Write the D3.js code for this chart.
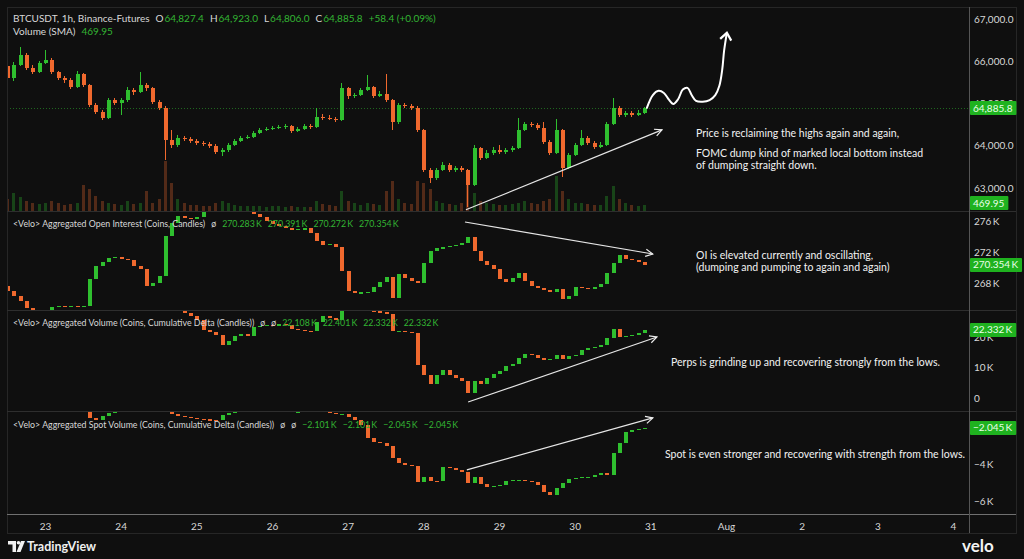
<!DOCTYPE html>
<html><head><meta charset="utf-8">
<script src="https://cdn.jsdelivr.net/npm/d3@7"></script>
<style>html,body{margin:0;padding:0;background:#0f0f0f;overflow:hidden}svg{display:block}text{font-family:Lato,"Noto Sans",sans-serif}</style>
</head><body>
<svg id="c" width="1024" height="559"></svg>
<script>
// ---------------- DATA (2-hour candles, first candle Jul 22 12:00) ----------------
const startTime = new Date(2024, 6, 22, 12);
const stepHours = 2;

const priceOpen0 = 65890;
const priceClose = [65605,65913,66149,65842,65747,65960,66031,65747,65605,65558,
65392,65700,65440,64967,64801,64660,65085,65014,65085,65322,
65274,65440,65369,65038,64896,64140,64021,64187,64163,64116,
64069,64045,63998,63856,63903,64021,64116,64187,64210,64305,
64376,64400,64423,64447,64471,64352,64400,64471,64447,64683,
64660,64640,64612,65369,65180,65203,65322,65392,65180,65227,
65085,64565,64967,64940,64896,64376,63430,63241,63430,63549,
63430,63478,63430,63076,63950,63714,63832,63903,63856,63903,
63950,64376,64518,64494,64423,64092,63832,64376,63478,63785,
64021,64187,64069,63974,64021,64518,64896,64731,64778,64731,
64778,64885.8];
const priceHigh = [65960,65990,66340,66200,65900,66010,66270,66080,65780,65660,
65600,65760,65730,65470,65010,64840,65130,65120,65140,65380,
65360,65750,65480,65400,65080,64930,64380,64250,64230,64200,
64150,64110,64080,64030,63950,64070,64160,64230,64260,64350,
64420,64440,64470,64490,64510,64500,64450,64510,64520,64900,
64740,64720,64680,65490,65400,65260,65360,65680,65420,65290,
65690,65110,65020,65020,64990,64930,64400,63470,63480,63610,
63580,63530,63510,63460,64010,63980,63890,63960,64020,63950,
64000,64660,64570,64560,64530,64560,64130,64630,64400,63840,
64070,64380,64220,64110,64080,64560,65130,64940,64830,64820,
64840,64923];
const priceLow = [65560,65540,65880,65800,65690,65720,65930,65700,65560,65480,
65340,65360,65400,64920,64740,64620,64640,64960,64730,65040,
65200,65240,65300,64990,64840,63670,63950,63980,64110,64070,
64020,64000,63950,63800,63760,63860,63990,64090,64150,64180,
64280,64340,64370,64390,64400,64300,64320,64370,64400,64420,
64610,64600,64560,64590,65100,65130,65170,65290,65130,65150,
65040,64380,64520,64900,64850,64330,63380,63120,63200,63400,
63380,63390,63370,62560,63040,63670,63680,63790,63800,63810,
63860,63920,64340,64440,64370,64050,63780,63800,63260,63440,
63750,63990,64020,63930,63940,63990,64480,64680,64690,64690,
64700,64750];
const volume = [720,1080,840,600,480,420,480,600,480,360,
420,480,1560,1320,900,600,480,420,360,600,
420,480,1200,480,720,3000,1680,720,480,360,
360,300,300,480,600,480,360,300,300,300,
300,240,300,300,240,300,240,240,240,600,
420,360,300,1200,600,480,360,480,420,360,
1200,1800,720,480,420,1800,1680,1320,600,480,
420,360,480,2100,1080,600,480,420,360,360,
420,480,600,480,420,600,720,2100,1200,720,
480,480,420,360,360,900,1500,720,480,360,
300,360];
const volumeSMA = 469.95;

const oiOpen0 = 267.6;
const oiClose = [266.97,266.3,265.7,264.8,264.1,263.9,264.1,264.9,265.0,264.9,
265.05,264.9,265.0,268.5,270.2,270.7,271.2,271.4,271.1,271.0,
270.2,269.8,267.6,268.0,268.9,274.1,275.7,276.6,276.4,276.3,
276.5,277.9,278.6,278.4,277.6,278.0,278.2,278.0,277.8,276.9,
276.5,276.0,275.6,275.4,275.1,274.8,275.0,275.05,274.5,273.4,
272.9,273.0,272.6,269.5,267.0,266.7,266.8,266.85,267.5,268.1,
268.8,266.1,269.2,268.6,268.3,268.0,270.6,272.1,272.5,272.6,
272.8,272.9,273.2,273.9,272.1,270.8,270.3,269.8,268.5,268.1,
268.6,269.3,268.3,267.6,267.4,267.1,266.8,267.2,265.9,266.3,
267.5,267.4,267.2,267.5,267.9,269.3,270.6,271.6,271.1,271.0,
270.7,270.354];

const aggOpen0 = 34.3;
const aggClose = [34.5,34.8,35.2,34.9,34.6,34.7,34.9,34.6,34.4,34.2,
34.0,34.3,33.9,33.2,32.8,32.5,32.9,32.8,33.0,33.3,
33.2,33.5,33.0,32.5,32.2,30.5,29.2,28.6,27.9,26.9,
25.6,22.3,21.6,20.7,17.4,18.7,20.3,21.0,20.3,23.3,
23.6,23.9,23.6,24.3,23.9,22.6,22.3,22.0,21.9,24.9,
26.9,26.2,25.6,29.5,29.2,28.9,28.8,28.5,28.4,28.2,
27.5,22.0,22.1,21.6,21.3,10.8,7.5,4.6,7.5,9.2,
7.6,6.6,5.6,1.6,5.6,4.6,6.6,7.9,8.9,10.5,
11.1,13.1,14.4,14.1,13.1,12.5,12.8,14.1,12.8,13.8,
14.1,15.7,16.4,16.7,17.4,19.7,22.6,20.0,20.3,20.7,
21.3,22.332];

const spotOpen0 = -0.7;
const spotClose = [-0.6,-0.5,-0.4,-0.5,-0.6,-0.7,-0.6,-0.7,-0.8,-0.9,
-0.9,-1.0,-1.05,-1.51,-1.62,-1.41,-1.24,-1.05,-0.95,-0.9,
-0.85,-0.9,-0.95,-1.0,-1.08,-1.19,-1.30,-1.41,-1.46,-1.51,
-1.57,-1.59,-1.62,-1.64,-1.35,-1.24,-1.14,-1.0,-0.95,-0.9,
-0.9,-0.95,-1.0,-1.05,-1.1,-1.19,-1.17,-1.1,-1.05,-1.0,
-1.1,-1.24,-1.30,-1.28,-1.46,-1.62,-1.89,-2.59,-2.81,-2.86,
-3.03,-3.68,-3.95,-4.05,-4.11,-4.97,-4.70,-4.92,-4.94,-4.16,
-4.22,-4.32,-4.43,-5.03,-4.70,-5.08,-5.24,-5.19,-5.14,-4.92,
-4.86,-4.84,-4.92,-4.97,-5.14,-5.51,-5.68,-5.30,-5.03,-4.81,
-4.76,-4.70,-4.68,-4.59,-4.49,-4.59,-3.41,-2.86,-2.27,-2.16,
-2.11,-2.045];

// axis ticks
const dayTicks = [23,24,25,26,27,28,29,30,31].map(d => new Date(2024,6,d)).concat([1,2,3,4].map(d => new Date(2024,7,d)));
const priceTicks = [63000,64000,65000,66000,67000];
const oiTicks = [268,272,276];
const aggTicks = [0,10,20];
const spotTicks = [-6,-4,-2];

// header texts
const priceHeaderVals = ["64,827.4","64,923.0","64,806.0","64,885.8","+58.4 (+0.09%)"];
const oiHeaderVals = ["270.283\u2009K","270.391\u2009K","270.272\u2009K","270.354\u2009K"];
const aggHeaderVals = ["22.108\u2009K","22.401\u2009K","22.332\u2009K","22.332\u2009K"];
const spotHeaderVals = ["\u22122.101\u2009K","\u22122.101\u2009K","\u22122.045\u2009K","\u22122.045\u2009K"];

// annotations (hours after Jul 23 00:00, value)
const priceTrend = [[133.5,62485],[195.7,64376]];
const oiTrend = [[133.2,275.87],[192.8,271.74]];
const aggTrend = [[134.2,-1.31],[194.1,20.0]];
const spotTrend = [[133.8,-4.32],[192.8,-1.51]];
const squiggle = [[190.9,64896],[192.8,65200],[194.6,65300],[196.3,65250],[197.8,65100],[199.3,64990],[200.8,65100],[202.3,65330],[203.8,65370],[205.1,65200],[206.5,65060],[208.6,65040],[210.8,65080],[212.6,65200],[213.9,65420],[214.8,65800],[215.4,66250],[216.2,66640]];
const notes = [
  {x:696,y:137,t:"Price is reclaiming the highs again and again,"},
  {x:696,y:157,t:"FOMC dump kind of marked local bottom instead"},
  {x:696,y:169,t:"of dumping straight down."},
  {x:696,y:259,t:"OI is elevated currently and oscillating,"},
  {x:696,y:271,t:"(dumping and pumping to again and again)"},
  {x:671,y:366,t:"Perps is grinding up and recovering strongly from the lows."},
  {x:665,y:458,t:"Spot is even stronger and recovering with strength from the lows."}
];

// ---------------- LAYOUT ----------------
const GREEN = "#2fbf2f", RED = "#f0692e", TXT = "#d8d8d8", VAL = "#33b533", LBL = "#1fb21f";
const FONT = "Lato";
const plotL = 7, plotR = 969, frameR = 1016, frameT = 7, axisY = 514, frameB = 533;
const panels = {price:[8,211], oi:[211,310], agg:[310,411], spot:[411,514]};

const svg = d3.select("#c");
svg.append("rect").attr("width",1024).attr("height",559).attr("fill","#0f0f0f");

const defs = svg.append("defs");
Object.entries(panels).forEach(([k,[t,b]]) => {
  defs.append("clipPath").attr("id","clip-"+k).append("rect")
    .attr("x",plotL+1).attr("y",t+1).attr("width",plotR-plotL-1).attr("height",b-t-1);
});
defs.append("marker").attr("id","arr").attr("viewBox","0 0 10 10")
  .attr("refX",9).attr("refY",5).attr("markerWidth",9).attr("markerHeight",9)
  .attr("markerUnits","userSpaceOnUse").attr("orient","auto")
  .append("path").attr("d","M1,1 L9,5 L1,9").attr("fill","none").attr("stroke","#eeeeee").attr("stroke-width",1.3);
defs.append("marker").attr("id","arr2").attr("viewBox","0 0 10 10")
  .attr("refX",5).attr("refY",5).attr("markerWidth",14).attr("markerHeight",14)
  .attr("markerUnits","userSpaceOnUse").attr("orient","auto")
  .append("path").attr("d","M1,1 L6,5 L1,9").attr("fill","none").attr("stroke","#ffffff").attr("stroke-width",1.6);

// scales
const x = d3.scaleTime().domain([new Date(2024,6,23), new Date(2024,7,4)]).range([45,953]);
const yPrice = d3.scaleLinear().domain([63000,67000]).range([188,19]);
const yVol = d3.scaleLinear().domain([0,4200]).range([211,141]);
const yOI = d3.scaleLinear().domain([268,276]).range([283,221]);
const yAgg = d3.scaleLinear().domain([0,20]).range([398,337]);
const ySpot = d3.scaleLinear().domain([-6,-2]).range([501,427]);

const times = priceClose.map((_,i) => new Date(startTime.getTime() + i*stepHours*3600e3));
const day23 = new Date(2024,6,23);
const tAt = h => new Date(day23.getTime() + h*3600e3);

function rowsOf(closes, open0, highs, lows){
  return closes.map((c,i) => {
    const o = i ? closes[i-1] : open0;
    return {t:times[i], o, c, h: highs ? highs[i] : Math.max(o,c), l: lows ? lows[i] : Math.min(o,c), up: c >= o};
  });
}

// volume bars (behind price)
{
  const rows = rowsOf(priceClose, priceOpen0);
  svg.append("g").attr("clip-path","url(#clip-price)")
    .selectAll("rect").data(rows).join("rect")
    .attr("x", d => Math.round(x(d.t)) - 1).attr("width",3)
    .attr("y", (d,i) => yVol(volume[i])).attr("height",(d,i) => yVol(0) - yVol(volume[i]))
    .attr("fill", d => d.up ? GREEN : RED).attr("opacity",0.3).attr("shape-rendering","crispEdges");
}

function drawCandles(key, rows, y, wicks){
  const g = svg.append("g").attr("clip-path",`url(#clip-${key})`).attr("shape-rendering","crispEdges");
  if (wicks) {
    g.selectAll("line").data(rows).join("line")
      .attr("x1", d => Math.round(x(d.t)) + 0.5).attr("x2", d => Math.round(x(d.t)) + 0.5)
      .attr("y1", d => y(d.h)).attr("y2", d => y(d.l))
      .attr("stroke", d => d.up ? GREEN : RED).attr("stroke-width",1);
  }
  g.selectAll("rect").data(rows).join("rect")
    .attr("x", d => Math.round(x(d.t)) - 1.5).attr("width",4)
    .attr("y", d => Math.min(y(d.o), y(d.c)))
    .attr("height", d => Math.max(1.2, Math.abs(y(d.o) - y(d.c))))
    .attr("fill", d => d.up ? GREEN : RED);
}

// last price dotted line
{
  const yy = Math.round(yPrice(priceClose[priceClose.length-1])) + 0.5;
  svg.append("line").attr("x1",plotL).attr("x2",plotR).attr("y1",yy).attr("y2",yy)
    .attr("stroke",GREEN).attr("stroke-dasharray","1,2").attr("opacity",0.5);
}

drawCandles("price", rowsOf(priceClose, priceOpen0, priceHigh, priceLow), yPrice, true);
drawCandles("oi", rowsOf(oiClose, oiOpen0), yOI, false);
drawCandles("agg", rowsOf(aggClose, aggOpen0), yAgg, false);
drawCandles("spot", rowsOf(spotClose, spotOpen0), ySpot, false);

// frame & separators
const sep = svg.append("g").attr("shape-rendering","crispEdges");
sep.append("rect").attr("x",plotL).attr("y",frameT).attr("width",frameR-plotL).attr("height",frameB-frameT)
  .attr("fill","none").attr("stroke","#262626");
[211,310,411].forEach(yy => sep.append("line").attr("x1",plotL).attr("x2",frameR).attr("y1",yy+0.5).attr("y2",yy+0.5).attr("stroke","#2e2e2e"));
sep.append("line").attr("x1",plotL).attr("x2",frameR).attr("y1",axisY+0.5).attr("y2",axisY+0.5).attr("stroke","#707070");
sep.append("line").attr("x1",plotR+0.5).attr("x2",plotR+0.5).attr("y1",frameT).attr("y2",frameB).attr("stroke","#555");

// right axes
function rightAxis(scale, ticks, fmt){
  const g = svg.append("g").attr("transform",`translate(${plotR},0)`)
    .call(d3.axisRight(scale).tickValues(ticks).tickSize(0).tickPadding(5).tickFormat(fmt));
  g.select(".domain").remove();
  g.selectAll("text").attr("fill",TXT).style("font-size","10px").style("font-family",FONT);
}
rightAxis(yPrice, priceTicks, d3.format(",.1f"));
rightAxis(yOI, oiTicks, d => d + "\u2009K");
rightAxis(yAgg, aggTicks, d => d === 0 ? "0" : d + "\u2009K");
rightAxis(ySpot, spotTicks, d => "\u2212" + Math.abs(d) + "\u2009K");

// bottom axis
{
  const g = svg.append("g").attr("transform",`translate(0,${axisY})`)
    .call(d3.axisBottom(x).tickValues(dayTicks).tickSize(0).tickPadding(9)
      .tickFormat(d => d.getDate() === 1 ? "Aug" : String(d.getDate())));
  g.select(".domain").remove();
  g.selectAll("text").attr("fill",TXT).style("font-size","10px").style("font-family",FONT);
}

// value label boxes
function valueBox(yy, label){
  const g = svg.append("g");
  const t = g.append("text").attr("x",plotR+4).attr("y",yy).attr("dy","0.35em")
    .attr("fill","#eaffea").style("font-size","10px").text(label);
  const w = t.node().getComputedTextLength();
  g.insert("rect","text").attr("x",plotR+1).attr("y",Math.round(yy)-7).attr("width",w+7).attr("height",14)
    .attr("fill",LBL).attr("rx",1);
}
valueBox(yPrice(priceClose[priceClose.length-1]), d3.format(",.1f")(priceClose[priceClose.length-1]));
valueBox(yVol(volumeSMA), d3.format(".2f")(volumeSMA));
valueBox(yOI(oiClose[oiClose.length-1]), d3.format(".3f")(oiClose[oiClose.length-1]) + "\u2009K");
valueBox(yAgg(aggClose[aggClose.length-1]), d3.format(".3f")(aggClose[aggClose.length-1]) + "\u2009K");
valueBox(ySpot(spotClose[spotClose.length-1]), "\u2212" + d3.format(".3f")(Math.abs(spotClose[spotClose.length-1])) + "\u2009K");

// headers: flowing tspans [text, color, gapBefore]
function header(y, size, parts){
  const t = svg.append("text").attr("x",13).attr("y",y).style("font-size",size+"px");
  parts.forEach(p => t.append("tspan").attr("dx",p[2]).attr("fill",p[1]).text(p[0]));
}
header(22, 10, [["BTCUSDT, 1h, Binance-Futures",TXT,0],["O",TXT,6],[priceHeaderVals[0],VAL,1],["H",TXT,6],[priceHeaderVals[1],VAL,1],
  ["L",TXT,6],[priceHeaderVals[2],VAL,1],["C",TXT,6],[priceHeaderVals[3],VAL,1],[priceHeaderVals[4],VAL,6]]);
header(35, 10, [["Volume (SMA)",TXT,0],[d3.format(".2f")(volumeSMA),VAL,6]]);
header(227, 8.8, [["<Velo> Aggregated Open Interest (Coins, Candles)",TXT,0],["\u00f8",TXT,6],
  [oiHeaderVals[0],VAL,6],[oiHeaderVals[1],VAL,6],[oiHeaderVals[2],VAL,6],[oiHeaderVals[3],VAL,6]]);
header(326, 8.8, [["<Velo> Aggregated Volume (Coins, Cumulative Delta (Candles))",TXT,0],["\u00f8",TXT,6],["\u00f8",TXT,6],
  [aggHeaderVals[0],VAL,6],[aggHeaderVals[1],VAL,6],[aggHeaderVals[2],VAL,6],[aggHeaderVals[3],VAL,6]]);
header(428, 8.8, [["<Velo> Aggregated Spot Volume (Coins, Cumulative Delta (Candles))",TXT,0],["\u00f8",TXT,6],["\u00f8",TXT,6],
  [spotHeaderVals[0],VAL,6],[spotHeaderVals[1],VAL,6],[spotHeaderVals[2],VAL,6],[spotHeaderVals[3],VAL,6]]);

// annotation lines
function trend(pts, y){
  svg.append("path").attr("d", d3.line().x(d => x(tAt(d[0]))).y(d => y(d[1]))(pts))
    .attr("fill","none").attr("stroke","#e6e6e6").attr("stroke-width",1.2).attr("marker-end","url(#arr)");
}
trend(priceTrend, yPrice);
trend(oiTrend, yOI);
trend(aggTrend, yAgg);
trend(spotTrend, ySpot);
svg.append("path").attr("d", d3.line().curve(d3.curveCatmullRom).x(d => x(tAt(d[0]))).y(d => yPrice(d[1]))(squiggle))
  .attr("fill","none").attr("stroke","#ffffff").attr("stroke-width",2).attr("stroke-linecap","round").attr("marker-end","url(#arr2)");

// notes
notes.forEach(n => svg.append("text").attr("x",n.x).attr("y",n.y).attr("fill","#f2f2f2").style("font-size","10.5px").text(n.t));

// footer
const logo = svg.append("g").attr("fill","#f0f0f0");
logo.append("path").attr("d","M8,541 h8 v11 h-3.5 v-7.5 h-4.5 z");
logo.append("circle").attr("cx",18.5).attr("cy",542.7).attr("r",1.8);
logo.append("path").attr("d","M21,541 h4 l-4.5,11 h-4 z");
svg.append("text").attr("x",27).attr("y",551).attr("fill","#f0f0f0").style("font-size","12.5px").style("font-weight","700").text("TradingView");
svg.append("text").attr("x",962).attr("y",552).attr("fill","#f4f4f4").style("font-size","17px").style("font-weight","700").text("velo");
</script>
</body></html>
